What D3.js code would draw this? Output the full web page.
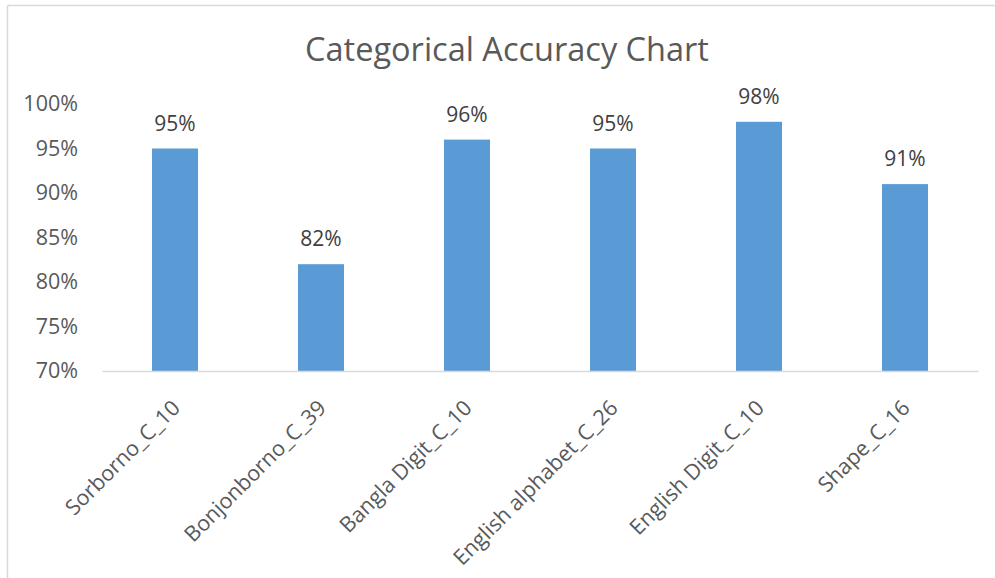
<!DOCTYPE html>
<html>
<head>
<meta charset="utf-8">
<script src="https://cdn.jsdelivr.net/npm/d3@7"></script>
<style>
  body { margin: 0; background: #fff; }
  text { font-family: "Open Sans", sans-serif; }
</style>
</head>
<body>
<div id="chart"></div>
<script>
var categories = ["Sorborno_C_10", "Bonjonborno_C_39", "Bangla Digit_C_10",
                  "English alphabet_C_26", "English Digit_C_10", "Shape_C_16"];
var accuracy = [95, 82, 96, 95, 98, 91];
var yTicks = [70, 75, 80, 85, 90, 95, 100];

var data = categories.map(function(c, i) { return {name: c, value: accuracy[i]}; });

var margin = {top: 104, right: 17, bottom: 207, left: 102},
    width = 995 - margin.left - margin.right,
    height = 578 - margin.top - margin.bottom;

var root = d3.select("#chart").append("svg")
    .attr("width", 995)
    .attr("height", 578);

// chart frame (only top and left edges show)
root.append("line")
    .attr("x1", 7.5).attr("y1", 5.5).attr("x2", 995).attr("y2", 5.5)
    .attr("stroke", "#d9d9d9").attr("stroke-width", 1.5);
root.append("line")
    .attr("x1", 7.5).attr("y1", 5.5).attr("x2", 7.5).attr("y2", 578)
    .attr("stroke", "#d9d9d9").attr("stroke-width", 1.5);

root.append("text")
    .attr("x", 507)
    .attr("y", 61)
    .attr("text-anchor", "middle")
    .attr("font-size", "32.5px")
    .attr("fill", "#595959")
    .text("Categorical Accuracy Chart");

var svg = root.append("g")
    .attr("transform", "translate(" + margin.left + "," + margin.top + ")");

var xScale = d3.scaleBand()
    .domain(categories)
    .range([0, width])
    .paddingInner(0.685)
    .paddingOuter(0.3425);

var yScale = d3.scaleLinear()
    .domain([70, 100])
    .range([height, 0]);

// y axis labels
var yAxis = svg.append("g")
    .call(d3.axisLeft(yScale).tickValues(yTicks).tickSize(0).tickPadding(24)
        .tickFormat(function(d) { return d + "%"; }));
yAxis.select(".domain").remove();
yAxis.selectAll("text")
    .attr("font-family", "Open Sans, sans-serif")
    .attr("font-size", "21.5px")
    .attr("fill", "#595959");

svg.selectAll("rect.bar").data(data)
    .join("rect")
    .attr("class", "bar")
    .attr("x", function(d) { return xScale(d.name); })
    .attr("y", function(d) { return yScale(d.value); })
    .attr("width", xScale.bandwidth())
    .attr("height", function(d) { return height - yScale(d.value); })
    .attr("fill", "#5b9bd5");

svg.selectAll("text.lbl").data(data)
    .join("text")
    .attr("class", "lbl")
    .attr("x", function(d) { return xScale(d.name) + xScale.bandwidth() / 2; })
    .attr("y", function(d) { return yScale(d.value) - 18; })
    .attr("text-anchor", "middle")
    .attr("font-size", "21px")
    .attr("fill", "#404040")
    .text(function(d) { return d.value + "%"; });

// x axis
var xAxis = svg.append("g")
    .attr("transform", "translate(0," + height + ")")
    .call(d3.axisBottom(xScale).tickSize(0).tickPadding(0));
xAxis.select(".domain")
    .attr("stroke", "#d9d9d9")
    .attr("stroke-width", 1.5);
xAxis.selectAll("text")
    .attr("font-family", "Open Sans, sans-serif")
    .attr("font-size", "21.5px")
    .attr("fill", "#595959")
    .attr("text-anchor", "end")
    .attr("y", 0)
    .attr("dy", "0.35em")
    .attr("transform", "translate(1,33) rotate(-45)");
</script>
</body>
</html>
